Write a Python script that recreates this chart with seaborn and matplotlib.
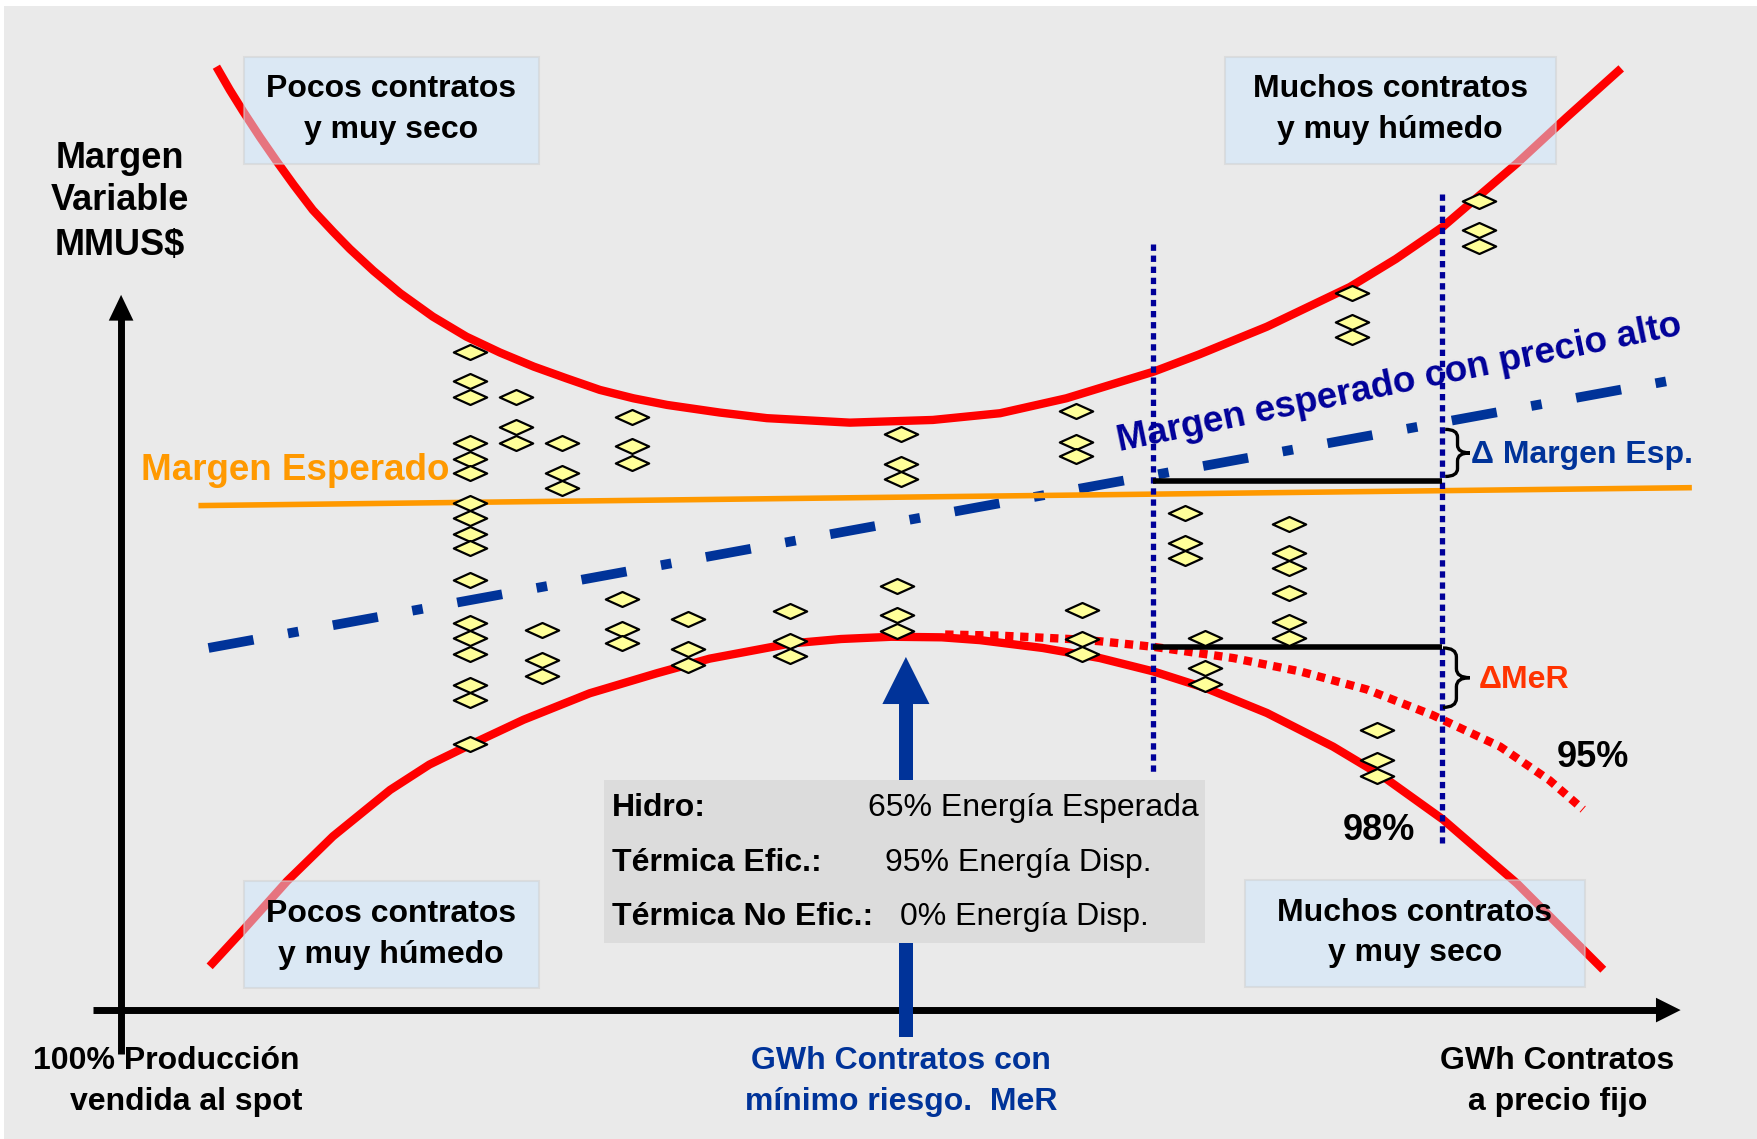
import matplotlib
matplotlib.use("Agg")
import matplotlib.pyplot as plt
from matplotlib.path import Path
from matplotlib.patches import Rectangle, PathPatch, Polygon
import numpy as np
import pandas as pd
import seaborn as sns

# ---------------- data (diagram units, y grows downward as on the slide) ----------------
upper_x = [193, 205, 217, 232, 247, 262, 279, 297, 312, 333, 357, 386, 416, 446, 476, 505, 535,
           565, 595, 642, 684, 758, 832, 892, 951, 1029, 1070, 1130, 1204, 1245, 1287, 1353,
           1397, 1446]
upper_y = [59.5, 80.3, 99.6, 122.5, 144.2, 165, 187.3, 206.6, 222, 241.5, 261.6, 282.4, 300.3,
           314.5, 327, 337.4, 347.8, 355.3, 361.2, 368, 373, 377, 374.6, 368.6, 355.3, 331.5,
           316, 291.4, 256, 231, 202.2, 145.7, 105, 61]

lower_x = [187, 217, 256, 297, 348, 383, 419, 467, 526, 586, 633, 705, 750, 795, 840, 874,
           930, 981, 1029, 1076, 1130, 1189, 1234, 1287, 1353, 1430]
lower_y = [862, 829.5, 786, 746, 704.6, 682, 664.5, 642, 618.4, 600.5, 587.5, 574, 570, 568, 568.5, 571,
           578, 587, 599, 614, 636, 666, 693, 731, 788, 865]

p95_x = [843, 892, 954, 981, 1029, 1100, 1160, 1219, 1278, 1338, 1382, 1412]
p95_y = [566, 567, 570, 572, 577, 587, 599, 615, 638, 666, 696, 722]

expected_x = [177, 1509]
expected_y = [451, 435]
high_price_x = [186, 1487]
high_price_y = [578, 340]

limit_x = [1028, 1286]
limit_top = [218, 173]
limit_bottom = [691, 752]
delta_y = [429, 577]

mer_x = 808

scen_x = [419, 460, 501, 564, 483, 555, 614, 705, 804, 800, 960, 965, 1057, 1150, 1075, 1206, 1319, 1228]
scen_y = [
    [314, 340, 354, 395, 409, 422, 449, 462, 476, 489, 517, 556, 569, 583, 611, 624, 664],
    [354, 381, 395],
    [395, 422, 435],
    [372, 398, 413],
    [562, 589, 603],
    [534, 561, 574],
    [552, 579, 593],
    [545, 572, 585],
    [387, 414, 427],
    [523, 549, 563],
    [367, 394, 407],
    [544, 570, 583],
    [458, 484, 498],
    [467, 493, 507, 529, 555, 569],
    [569, 596, 610],
    [261, 287, 301],
    [179, 205, 219],
    [651, 678, 692],
]

info_labels = ["Hidro:", "Térmica Efic.:", "Térmica No Efic.:"]
info_values = ["65% Energía Esperada", "95% Energía Disp.", "0% Energía Disp."]

# ---------------- style ----------------
sns.set_theme(style="white")
plt.rcParams['font.family'] = ['Liberation Sans', 'DejaVu Sans']
plt.rcParams['text.color'] = 'black'

RED = '#FF0000'
ORANGE = '#FF9900'
BLUE = '#003399'
NAVY = '#000099'

fig = plt.figure(figsize=(17.58, 11.39), dpi=100)
fig.patch.set_facecolor('white')
ax = fig.add_axes([0, 0, 1, 1])

ax.add_patch(Rectangle((4, 5), 1564, 1011, fc='#EAEAEA', ec='none', zorder=0))


def sline(x, y, **kw):
    sns.lineplot(x=x, y=y, ax=ax, sort=False, estimator=None, legend=False, **kw)
    ln = ax.lines[-1]
    ln.set_solid_capstyle('butt')
    ln.set_dash_capstyle('butt')
    ln.set_solid_joinstyle('round')
    return ln


# envelopes
sline(upper_x, upper_y, color=RED, lw=6, zorder=2)
sline(lower_x, lower_y, color=RED, lw=6, zorder=2)
l95 = sline(p95_x, p95_y, color=RED, lw=6, zorder=2)
l95.set_dashes([1.0, 0.8])

# high price expected margin (dash-dot)
lb = sline(high_price_x, high_price_y, color=BLUE, lw=7, zorder=3)
lb.set_dashes([4.7, 3.6, 1.1, 3.6])

# expected margin
sline(expected_x, expected_y, color=ORANGE, lw=4, zorder=4)

# vertical dotted limits
for xv, yt, yb in zip(limit_x, limit_top, limit_bottom):
    lv = sline([xv, xv], [yt, yb], color=NAVY, lw=3.8, zorder=5)
    lv.set_dashes([1.2, 0.9])

# horizontal delta lines
for yv in delta_y:
    sline([limit_x[0], limit_x[1]], [yv, yv], color='black', lw=4, zorder=5)

# scenario diamonds
df = pd.DataFrame({'x': np.concatenate([[x] * len(ys) for x, ys in zip(scen_x, scen_y)]),
                   'y': np.concatenate(scen_y)})
diamond = Path([(-1, 0), (0, 0.45), (1, 0), (0, -0.45), (-1, 0)],
               [Path.MOVETO, Path.LINETO, Path.LINETO, Path.LINETO, Path.CLOSEPOLY])
sns.scatterplot(data=df, x='x', y='y', ax=ax, marker=diamond, s=24 ** 2,
                color='#FFFF99', edgecolor='black', linewidth=1.6, zorder=6, legend=False)

ax.set_xlim(0, 1568)
ax.set_ylim(1016, 0)
ax.axis('off')

# axes arrows
ax.plot([108, 108], [940, 284], color='black', lw=5, solid_capstyle='butt', zorder=7)
ax.add_patch(Polygon([(97, 286), (119, 286), (108, 263)], closed=True, fc='black', ec='none', zorder=7))
ax.plot([83, 1479], [901, 901], color='black', lw=5, solid_capstyle='butt', zorder=7)
ax.add_patch(Polygon([(1477, 890), (1477, 912), (1499, 901)], closed=True, fc='black', ec='none', zorder=7))

# blue MeR arrow
ax.add_patch(Rectangle((mer_x - 6.5, 626), 13, 299, fc=BLUE, ec='none', zorder=7))
ax.add_patch(Polygon([(mer_x - 21, 628), (mer_x + 21, 628), (mer_x, 586)], closed=True,
                     fc=BLUE, ec='none', zorder=7))

# info box
ax.add_patch(Rectangle((539, 696), 536, 145, fc='#DCDCDC', ec='none', zorder=8))
for lab, val, yv, xv in zip(info_labels, info_values, [721, 770, 818], [774, 789, 803]):
    ax.text(546, yv, lab, fontsize=23, fontweight='bold', ha='left', va='center', zorder=9)
    ax.text(xv, yv, val, fontsize=23, ha='left', va='center', zorder=9)

# quadrant boxes
boxes = [((218, 51, 263, 95), 349, (79, 116), ["Pocos contratos", "y muy seco"]),
         ((1093, 51, 295, 95), 1240, (79, 116), ["Muchos contratos", "y muy húmedo"]),
         ((218, 786, 263, 95), 349, (815, 852), ["Pocos contratos", "y muy húmedo"]),
         ((1110, 785, 304, 95), 1262, (814, 850), ["Muchos contratos", "y muy seco"])]
for (bx, by, bw, bh), cx, ys, lines in boxes:
    ax.add_patch(Rectangle((bx, by), bw, bh, fc=(206 / 255, 232 / 255, 254 / 255), alpha=0.5,
                           ec='#CFCFCF', lw=1.5, zorder=10))
    for t, yv in zip(lines, ys):
        ax.text(cx, yv, t, fontsize=23, fontweight='bold', ha='center', va='center', zorder=11)


# braces
def brace(x0, x1, y0, y1):
    xm = (x0 + x1) / 2
    ym = (y0 + y1) / 2
    rv = min(8, (y1 - y0) / 6)
    verts = [(x0, y0), (xm, y0), (xm, y0 + rv), (xm, ym - rv), (xm, ym), (x1, ym),
             (xm, ym), (xm, ym + rv), (xm, y1 - rv), (xm, y1), (x0, y1)]
    codes = [Path.MOVETO, Path.CURVE3, Path.CURVE3, Path.LINETO, Path.CURVE3, Path.CURVE3,
             Path.CURVE3, Path.CURVE3, Path.LINETO, Path.CURVE3, Path.CURVE3]
    ax.add_patch(PathPatch(Path(verts, codes), fc='none', ec='black', lw=2.4, zorder=9))


brace(1289, 1311, 383, 425)
brace(1287, 1311, 578, 631)

# labels
for t, yv in zip(["Margen", "Variable", "MMUS$"], [141, 179, 219]):
    ax.text(107, yv, t, fontsize=26, fontweight='bold', ha='center', va='center', zorder=11)

ax.text(263, 420, "Margen Esperado", fontsize=26.5, fontweight='bold', color=ORANGE,
        ha='center', va='center', zorder=11)
ax.text(1250, 350, "Margen esperado con precio alto", fontsize=26.5, fontweight='bold',
        color=NAVY, ha='center', va='baseline', rotation=11.7, rotation_mode='anchor', zorder=11)
ax.text(1312, 406, "Δ Margen Esp.", fontsize=23, fontweight='bold', color=BLUE,
        ha='left', va='center', zorder=11)
ax.text(1319, 607, "ΔMeR", fontsize=23, fontweight='bold', color='#FF3300',
        ha='left', va='center', zorder=11)
ax.text(1421, 676, "95%", fontsize=26, fontweight='bold', ha='center', va='center', zorder=11)
ax.text(1230, 741, "98%", fontsize=26, fontweight='bold', ha='center', va='center', zorder=11)

ax.text(148.5, 946, "100% Producción", fontsize=23, fontweight='bold', ha='center', va='center', zorder=11)
ax.text(166.5, 983, "vendida al spot", fontsize=23, fontweight='bold', ha='center', va='center', zorder=11)
ax.text(804, 946, "GWh Contratos con", fontsize=23, fontweight='bold', color=BLUE,
        ha='center', va='center', zorder=11)
ax.text(804, 983, "mínimo riesgo.  MeR", fontsize=23, fontweight='bold', color=BLUE,
        ha='center', va='center', zorder=11)
ax.text(1389, 946, "GWh Contratos", fontsize=23, fontweight='bold', ha='center', va='center', zorder=11)
ax.text(1389, 983, "a precio fijo", fontsize=23, fontweight='bold', ha='center', va='center', zorder=11)

fig.savefig("out.png", dpi=100, facecolor='white')
